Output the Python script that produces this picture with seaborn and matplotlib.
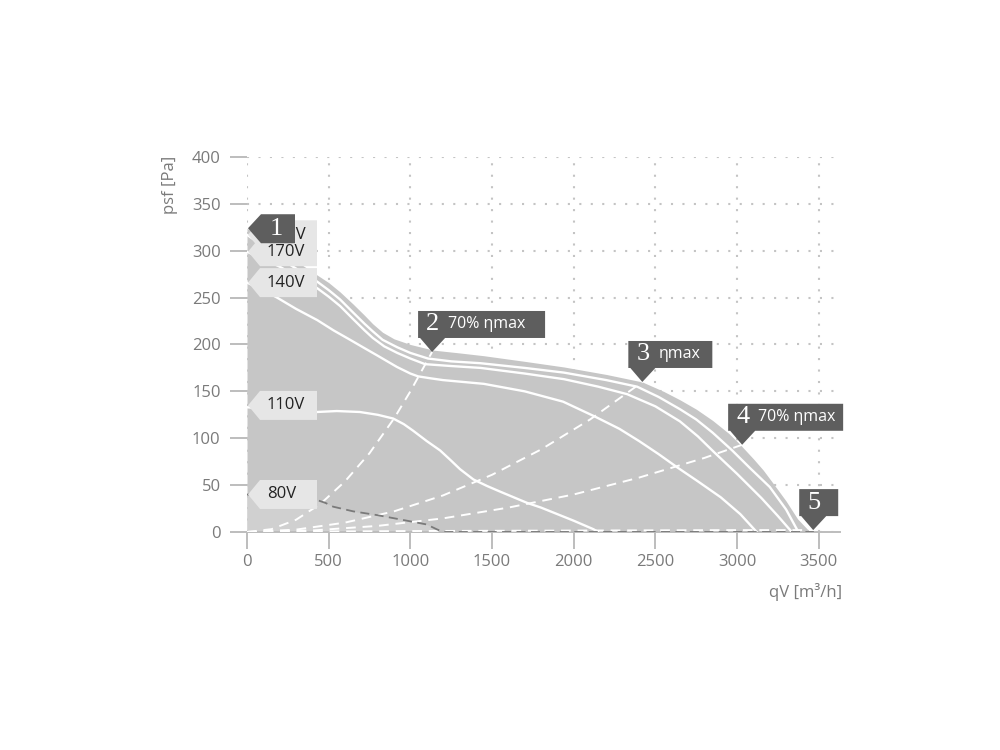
import matplotlib
matplotlib.use('Agg')
import matplotlib.pyplot as plt
import matplotlib.transforms as mtransforms
from matplotlib.patches import Polygon
import seaborn as sns

# fan curves: qV [m3/h] -> psf [Pa]
max_q = [0, 100, 200, 300, 430, 500, 570, 650, 720, 770, 830, 900, 1000, 1140, 1300, 1450,
         1700, 1940, 2200, 2420, 2550, 2650, 2750, 2850, 2950, 3020, 3100, 3160, 3220, 3300,
         3370, 3430, 3470]
max_p = [324, 312, 300, 289, 274, 266, 256, 243, 231, 222, 213, 206, 200, 194, 191, 188,
         182, 176, 168, 160, 150, 141, 131, 119, 105, 93, 78, 66, 52, 33,
         14, 3, 0]

v200_q = [0, 100, 200, 300, 430, 500, 570, 650, 720, 770, 830, 920, 1000, 1108, 1250, 1430,
          1700, 1940, 2200, 2388, 2520, 2650, 2750, 2850, 2970, 3080, 3200, 3300, 3375]
v200_p = [317, 305, 292, 281, 267, 258, 248, 234, 222, 214, 205, 197, 191, 185, 182, 180,
          175, 170, 162, 155, 144, 131, 120, 106, 87, 68, 48, 24, 0]

v170_q = [0, 100, 200, 300, 430, 500, 570, 650, 720, 770, 840, 920, 1000, 1090, 1250, 1430,
          1700, 1940, 2150, 2327, 2500, 2650, 2760, 2866, 3000, 3150, 3250, 3335]
v170_p = [299, 291, 283, 273, 260, 251, 241, 227, 215, 207, 198, 191, 185, 179, 177, 175,
          169, 163, 155, 147, 134, 118, 102, 84, 62, 36, 17, 0]

v140_q = [0, 100, 184, 300, 430, 530, 631, 720, 800, 918, 1000, 1047, 1120, 1200, 1450,
          1700, 1935, 2131, 2280, 2400, 2520, 2633, 2760, 2900, 3020, 3120]
v140_p = [266, 258, 250, 238, 226, 215, 205, 196, 188, 176, 169, 166, 164, 162, 158,
          150, 139, 123, 110, 97, 83, 69, 54, 37, 19, 0]

v110_q = [0, 300, 430, 550, 690, 800, 895, 960, 1017, 1100, 1182, 1250, 1304, 1386, 1470,
          1550, 1715, 1800, 1900, 2000, 2120, 2150]
v110_p = [133, 130, 128, 129, 128, 125, 121, 115, 108, 97, 87, 76, 67, 56, 49,
          43, 31, 26, 19, 12, 3, 0]

v80_q = [0, 200, 430, 480, 527, 650, 796, 950, 1100, 1160, 1200, 3470]
v80_p = [40, 37, 34, 31, 27, 22, 18, 13, 8, 3, 0, 0]

# system curves through the operating points
sys2_q = [0, 150, 300, 450, 600, 750, 900, 1000, 1133]
sys2_p = [0, 3, 13, 30, 54, 84, 121, 150, 192]
sys3_q = [0, 300, 600, 900, 1200, 1500, 1800, 2100, 2420]
sys3_p = [0, 2.5, 10, 22, 39, 61, 88, 120, 160]
sys4_q = [0, 400, 800, 1200, 1600, 2000, 2400, 2800, 3031]
sys4_p = [0, 1.6, 6.5, 14.5, 26, 40, 58, 79, 93]
sys5_q = [0, 1000, 2000, 3000, 3466]
sys5_p = [0, 1, 1.5, 2, 2]

volt_names = ['200V', '170V', '140V', '110V', '80V']
volt_p = [317, 299, 266, 135, 40]

point_nums = ['1', '2', '3', '4', '5']
point_text = ['', '70% ηmax', 'ηmax', '70% ηmax', '']
point_q = [0, 1133, 2420, 3031, 3466]
point_p = [324, 192, 160, 93, 2]

x_ticks = [0, 500, 1000, 1500, 2000, 2500, 3000, 3500]
y_ticks = [0, 50, 100, 150, 200, 250, 300, 350, 400]

FILL = '#c6c6c6'
DARK = '#5e5e5e'
LIGHT = '#e6e6e6'
TXT = '#7a7a7a'

sns.set_theme(style='white')
plt.rcParams['font.family'] = ['Open Sans', 'DejaVu Sans']

fig = plt.figure(figsize=(10, 7.5), dpi=100)
ax = fig.add_axes([0.247, 0.2907, 0.593, 0.5])

ax.fill_between(max_q, max_p, 0, color=FILL, lw=0, zorder=1)
ax.fill_between(v80_q, v80_p, 0, color='#d0d0d0', lw=0, zorder=1.2)

for q, p in [(v200_q, v200_p), (v170_q, v170_p), (v140_q, v140_p), (v110_q, v110_p)]:
    sns.lineplot(x=q, y=p, ax=ax, color='white', lw=1.7, zorder=3)

for q, p in [(sys2_q, sys2_p), (sys3_q, sys3_p), (sys4_q, sys4_p), (sys5_q, sys5_p)]:
    sns.lineplot(x=q, y=p, ax=ax, color='white', lw=1.4, linestyle=(0, (5, 3.5)), zorder=3.5)

sns.lineplot(x=v80_q, y=v80_p, ax=ax, color='#7a7a7a', lw=1.3, linestyle=(0, (5, 3)), zorder=3.6)

ax.set_xlim(0, 3630)
ax.set_ylim(0, 400)
ax.set_xticks(x_ticks)
ax.set_yticks(y_ticks)
ax.set_xlabel('')
ax.set_ylabel('')
ax.grid(True, linestyle=(0, (1, 4.5)), color='#c4c4c4', lw=1.5)
ax.set_axisbelow(True)
for s in ['left', 'top', 'right']:
    ax.spines[s].set_visible(False)
ax.spines['bottom'].set_color('#bdbdbd')
ax.spines['bottom'].set_linewidth(1.4)
ax.tick_params(axis='y', length=12, width=1.4, color='#bdbdbd', pad=7,
               labelcolor=TXT, labelsize=12, left=True)
ax.tick_params(axis='x', length=12, width=1.4, color='#bdbdbd', pad=4,
               labelcolor=TXT, labelsize=12, bottom=True)

fig.text(0.170, 1 - 185 / 750, 'psf [Pa]', rotation=90, ha='center', va='center',
         color=TXT, fontsize=12)
fig.text(0.842, 1 - 592 / 750, 'qV [m³/h]', ha='right', va='center', color=TXT, fontsize=12)


def at(q, p):
    # pixel offsets around a data point
    return mtransforms.ScaledTranslation(q, p, ax.transData)


# voltage tags on the left edge
for name, p in zip(volt_names, volt_p):
    tr = at(0, p)
    verts = [(1, 0), (13, 14.5), (70, 14.5), (70, -14.5), (13, -14.5)]
    ax.add_patch(Polygon(verts, closed=True, transform=tr, fc=LIGHT, ec='none',
                         zorder=5, clip_on=False))
    ax.text(20, 0, name, transform=tr, ha='left', va='center', color='#222222',
            fontsize=12, zorder=5.1)

# operating point markers
box_w = [48, 113, 70, 101, 25]
for i, (num, txt, q, p) in enumerate(zip(point_nums, point_text, point_q, point_p)):
    tr = at(q, p)
    if i == 0:
        verts = [(1, 0), (14, 14), (box_w[0], 14), (box_w[0], -15), (14, -15)]
        tx, ty = 29, -0.5
    else:
        verts = [(0, 0), (-12, 14), (-14, 14), (-14, 41), (box_w[i], 41),
                 (box_w[i], 14), (13, 14)]
        tx, ty = 0.5, 27.5
    ax.add_patch(Polygon(verts, closed=True, transform=tr, fc=DARK, ec='none',
                         zorder=6, clip_on=False))
    ax.text(tx, ty, num, transform=tr, ha='center', va='center', color='white',
            fontsize=19, family=['Liberation Serif', 'DejaVu Serif'], zorder=6.1)
    if txt:
        ax.text(16, ty, txt, transform=tr, ha='left', va='center', color='white',
                fontsize=11.5, zorder=6.1)

fig.savefig('out.png', dpi=100)
